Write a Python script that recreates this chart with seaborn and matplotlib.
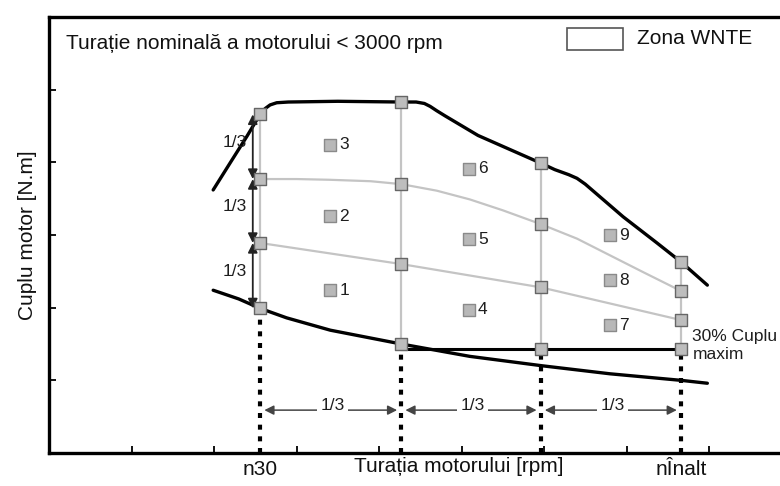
import numpy as np
import pandas as pd
import matplotlib
matplotlib.use("Agg")
import matplotlib.pyplot as plt
from matplotlib.patches import Rectangle
import seaborn as sns

# ==============================
# DATA (x/y in tick units)
# ==============================
upper_x = [1.99, 2.20, 2.40, 2.50, 2.56, 2.62, 2.68, 2.76, 2.90, 3.50, 4.27, 4.45, 4.55, 4.62, 4.70, 4.80, 5.20, 5.96, 6.13, 6.30, 6.40, 6.50, 6.96, 7.37, 7.66, 7.98]
upper_y = [3.62, 4.00, 4.36, 4.55, 4.66, 4.74, 4.79, 4.82, 4.83, 4.84, 4.83, 4.83, 4.81, 4.77, 4.71, 4.64, 4.37, 3.99, 3.90, 3.83, 3.78, 3.70, 3.25, 2.89, 2.63, 2.31]

lower_x = [1.99, 2.30, 2.56, 2.88, 3.41, 4.27, 5.10, 5.98, 6.80, 7.66, 7.98]
lower_y = [2.24, 2.12, 1.99, 1.86, 1.69, 1.50, 1.33, 1.20, 1.09, 1.00, 0.96]

speeds = [2.56, 4.27, 5.96, 7.66]          # n30 ... nInalt
top_at_speed = [4.66, 4.83, 3.99, 2.63]
bottom_at_speed = [1.99, 1.50, 1.43, 1.43]
min_torque_30 = 1.43                       # 30% cuplu maxim

mid2_x = [2.56, 3.00, 3.40, 3.90, 4.27, 4.70, 5.10, 5.50, 5.96, 6.40, 6.80, 7.20, 7.66]
mid2_y = [3.77, 3.77, 3.76, 3.74, 3.70, 3.61, 3.49, 3.34, 3.15, 2.95, 2.72, 2.49, 2.23]
mid1_x = [2.56, 4.27, 5.96, 7.66]
mid1_y = [2.89, 2.60, 2.28, 1.83]
mid2_at_speed = [3.77, 3.70, 3.15, 2.23]

mode_ids = ["1", "2", "3", "4", "5", "6", "7", "8", "9"]
mode_x = [3.41, 3.41, 3.41, 5.09, 5.09, 5.09, 6.80, 6.80, 6.80]
mode_y = [2.24, 3.26, 4.24, 1.97, 2.94, 3.91, 1.76, 2.38, 3.00]

x_tick_labels = ["n30", "nÎnalt"]

# ==============================
# STYLE
# ==============================
sns.set_style("white")
plt.rcParams['font.family'] = ['Liberation Sans', 'DejaVu Sans']

fig = plt.figure(figsize=(7.8, 4.86), dpi=100)
ax = fig.add_axes([49 / 780, 33 / 486, 731 / 780, 436 / 486])
ax.set_xlim(0, 731 / 82.5)
ax.set_ylim(0, 6)

grey = "#c4c4c4"
txt = "#1e1e1e"

# grid of WNTE zone (light grey)
for sx, lo, hi in zip(speeds, bottom_at_speed, top_at_speed):
    ax.plot([sx, sx], [lo, hi], color=grey, lw=1.6, zorder=2)
sns.lineplot(x=mid2_x, y=mid2_y, sort=False, estimator=None, color=grey, lw=1.6, ax=ax, zorder=2)
sns.lineplot(x=mid1_x, y=mid1_y, sort=False, estimator=None, color=grey, lw=1.6, ax=ax, zorder=2)

# boundary curves
sns.lineplot(x=upper_x, y=upper_y, sort=False, estimator=None, color="black", lw=2.4, ax=ax, zorder=3)
sns.lineplot(x=lower_x, y=lower_y, sort=False, estimator=None, color="black", lw=2.4, ax=ax, zorder=3)
ax.plot([speeds[1], speeds[3]], [min_torque_30, min_torque_30], color="black", lw=2.2, zorder=3)

# dotted verticals down to the axis
for sx, lo in zip(speeds, bottom_at_speed):
    ax.plot([sx, sx], [0, lo], color="black", lw=3, linestyle=(0, (1.2, 1.6)), zorder=3)

# grid corner squares
corner_df = pd.DataFrame({
    "x": speeds * 4,
    "y": top_at_speed + mid2_at_speed + mid1_y + bottom_at_speed,
})
sns.scatterplot(data=corner_df, x="x", y="y", marker="s", s=70, color="#bdbdbd",
                edgecolor="#666666", linewidth=1.0, ax=ax, zorder=5)

# test mode squares 1..9
sns.scatterplot(x=mode_x, y=mode_y, marker="s", s=85, color="#b8b8b8",
                edgecolor="#8a8a8a", linewidth=1.0, ax=ax, zorder=5)
for lbl, mx, my in zip(mode_ids, mode_x, mode_y):
    ax.text(mx + 0.11, my, lbl, fontsize=12.5, va="center", ha="left", color=txt)

# vertical 1/3 arrows
arrow_x = 2.47
levels = [top_at_speed[0], mid2_at_speed[0], mid1_y[0], bottom_at_speed[0]]
for a, b in zip(levels[:-1], levels[1:]):
    ax.annotate("", xy=(arrow_x, a), xytext=(arrow_x, b),
                arrowprops=dict(arrowstyle="<|-|>", color="#222222", lw=1.3,
                                mutation_scale=14, shrinkA=0, shrinkB=0))
    ax.text(2.25, (a + b) / 2 + 0.06, "1/3", fontsize=12.5, ha="center", va="center", color=txt)

# horizontal 1/3 arrows
arrow_y = 0.59
for a, b in zip(speeds[:-1], speeds[1:]):
    ax.annotate("", xy=(a + 0.05, arrow_y), xytext=(b - 0.05, arrow_y),
                arrowprops=dict(arrowstyle="<|-|>", color="#444444", lw=1.1,
                                mutation_scale=14, shrinkA=0, shrinkB=0))
    ax.text((a + b) / 2 + 0.02, arrow_y + 0.06, "1/3", fontsize=12.5, ha="center", va="center",
            color=txt, bbox=dict(fc="white", ec="none", pad=2.5))

ax.text(speeds[3] + 0.14, min_torque_30 + 0.05, "30% Cuplu\nmaxim", fontsize=12.5,
        ha="left", va="center", linespacing=1.25, color=txt)

# title and legend-like box
ax.text(0.21, 5.64, "Turație nominală a motorului < 3000 rpm", fontsize=15,
        ha="left", va="center", color="#111111")
ax.add_patch(Rectangle((6.28, 5.54), 0.68, 0.31, fc="white", ec="#555555", lw=1.2))
ax.text(7.13, 5.70, "Zona WNTE", fontsize=15, ha="left", va="center", color="#111111")

# axes
for side in ["left", "top", "bottom"]:
    ax.spines[side].set_linewidth(2.4)
    ax.spines[side].set_color("black")
ax.spines["right"].set_visible(False)

ax.set_xticks(range(1, 9))
ax.set_xticklabels([])
ax.set_yticks(range(1, 6))
ax.set_yticklabels([])
ax.tick_params(axis="both", which="major", direction="in", length=5, width=1.3, color="black")
ax.tick_params(axis="both", which="major", bottom=True, left=True)

ax.set_xticks([speeds[0], speeds[3]], minor=True)
ax.set_xticklabels(x_tick_labels, minor=True, fontsize=15, color="#111111")
ax.tick_params(axis="x", which="minor", length=0, pad=5)

ax.set_xlabel("Turația motorului [rpm]", fontsize=15, color="#111111")
ax.xaxis.set_label_coords(0.56, -0.01)
ax.set_ylabel("Cuplu motor [N.m]", fontsize=15, color="#111111")
ax.yaxis.set_label_coords(-0.017, 0.5)

plt.savefig("out.png", dpi=100)
